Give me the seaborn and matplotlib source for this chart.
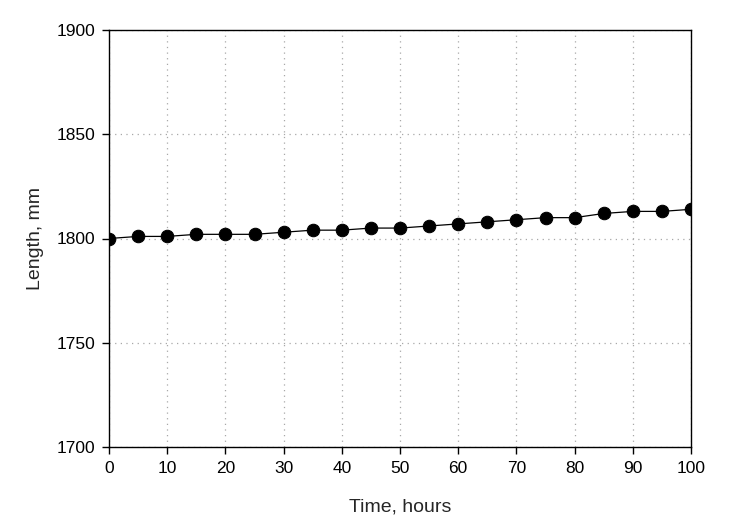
import matplotlib
matplotlib.use("Agg")
import matplotlib.pyplot as plt
import seaborn as sns
import pandas as pd

time_hours = [0, 5, 10, 15, 20, 25, 30, 35, 40, 45, 50, 55, 60, 65, 70, 75, 80, 85, 90, 95, 100]
length_mm = [1800, 1801, 1801, 1802, 1802, 1802, 1803, 1804, 1804, 1805, 1805,
             1806, 1807, 1808, 1809, 1810, 1810, 1812, 1813, 1813, 1814]
x_ticks = [0, 10, 20, 30, 40, 50, 60, 70, 80, 90, 100]
y_ticks = [1700, 1750, 1800, 1850, 1900]

sns.set_style("white")
plt.rcParams['font.family'] = ['Liberation Sans', 'DejaVu Sans']

df = pd.DataFrame({"Time": time_hours, "Length": length_mm})

fig = plt.figure(figsize=(7.34, 5.28), dpi=100)
ax = fig.add_axes([109/734, 1-447/528, (691-109)/734, (447-30)/528])

sns.lineplot(data=df, x="Time", y="Length", ax=ax, color="black", linewidth=0.9,
             marker="o", markersize=9, markeredgecolor="black", markerfacecolor="black",
             zorder=3)

ax.set_xlim(0, 100)
ax.set_ylim(1700, 1900)
ax.set_xticks(x_ticks)
ax.set_yticks(y_ticks)
ax.grid(True, linestyle=(0, (1, 3.5)), color="#a8a8a8", linewidth=0.9)
for s in ax.spines.values():
    s.set_visible(True)
    s.set_color("black")
    s.set_linewidth(1.0)
ax.tick_params(axis="both", direction="out", length=5, width=1, colors="black",
               labelsize=12.5, bottom=True, left=True, pad=5)
ax.set_xlabel("Time, hours", fontsize=14, labelpad=16)
ax.set_ylabel("Length, mm", fontsize=14, labelpad=9)

fig.savefig("out.png", dpi=100)
